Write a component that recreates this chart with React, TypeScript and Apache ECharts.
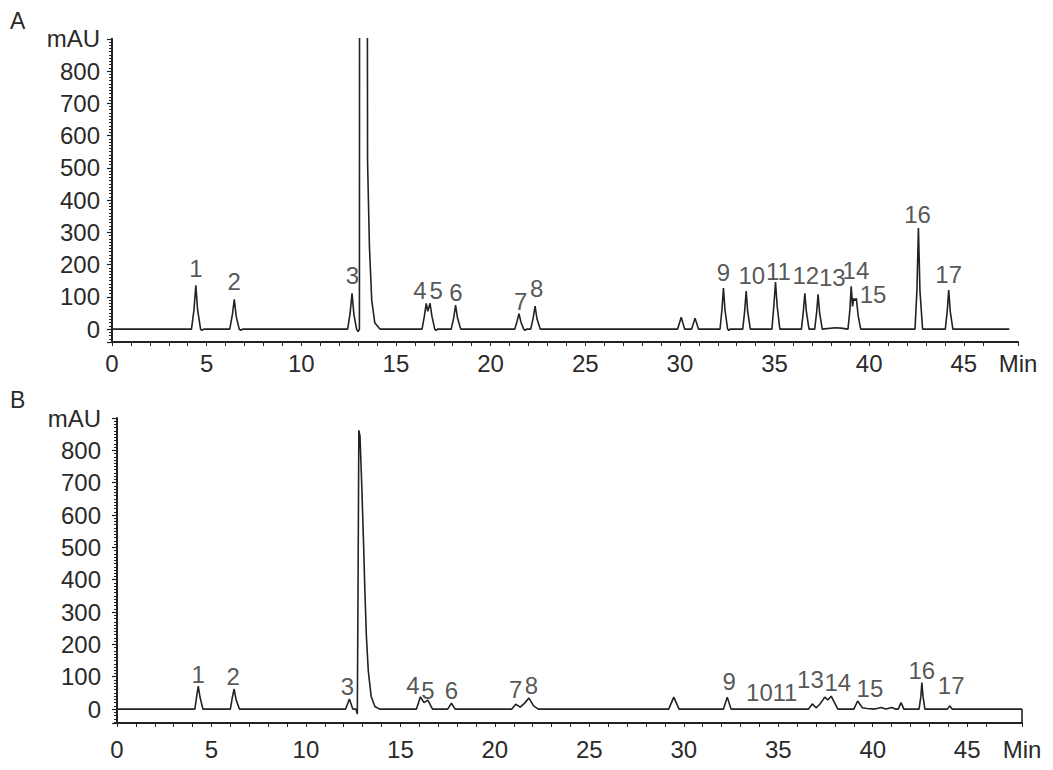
import React, { useEffect, useRef } from "react";
import * as echarts from "echarts";

// Panel A trace: [minutes, mAU]
const traceA: [number, number][] = [
  [0, 0], [4.2, 0], [4.33, 60], [4.43, 136], [4.52, 60], [4.68, 0], [4.75, -4], [4.85, 0],
  [6.22, 0], [6.36, 45], [6.46, 92], [6.56, 40], [6.72, 0], [6.8, -4], [6.9, 0],
  [12.45, 0], [12.58, 50], [12.68, 111], [12.78, 45], [12.92, 0], [13.0, -8], [13.07, 0],
  [13.09, 3000], [13.45, 3000], [13.5, 520], [13.6, 254], [13.72, 90], [13.88, 20], [14.15, 0],
  [16.38, 0], [16.5, 40], [16.6, 80], [16.68, 55], [16.8, 80], [16.9, 40], [17.05, 0], [17.12, -4], [17.2, 0],
  [17.92, 0], [18.05, 35], [18.15, 74], [18.25, 35], [18.42, 0],
  [21.28, 0], [21.4, 25], [21.5, 48], [21.6, 22], [21.75, 0], [21.82, -4], [21.9, 0],
  [22.12, 0], [22.25, 35], [22.35, 71], [22.45, 32], [22.62, 0],
  [29.88, 0], [30.07, 37], [30.25, 0], [30.62, 0], [30.8, 34], [30.98, 0],
  [32.12, 0], [32.22, 60], [32.3, 127], [32.38, 60], [32.52, 0], [32.58, -4], [32.65, 0],
  [33.32, 0], [33.42, 55], [33.5, 118], [33.58, 55], [33.72, 0],
  [34.86, 0], [34.96, 70], [35.05, 146], [35.14, 70], [35.28, 0],
  [36.42, 0], [36.52, 55], [36.6, 111], [36.68, 55], [36.82, 0],
  [37.12, 0], [37.22, 50], [37.3, 108], [37.38, 50], [37.52, 0],
  [38.2, 4], [38.5, 3], [38.88, 0], [38.98, 60], [39.05, 133], [39.12, 70], [39.18, 95], [39.25, 88],
  [39.32, 95], [39.42, 40], [39.55, 0],
  [42.42, 0], [42.52, 120], [42.6, 313], [42.68, 120], [42.82, 0],
  [44.02, 0], [44.12, 55], [44.2, 121], [44.28, 55], [44.42, 0],
  [47.4, 0],
];

// Panel B trace: [minutes, mAU]
const traceB: [number, number][] = [
  [0, 0], [4.12, 0], [4.22, 40], [4.3, 71], [4.4, 35], [4.55, 0],
  [6.0, 0], [6.1, 35], [6.2, 62], [6.3, 30], [6.48, 0],
  [12.1, 0], [12.3, 31], [12.48, 0],
  [12.65, 0], [12.72, -15], [12.76, 400], [12.8, 862], [12.86, 845], [12.95, 700], [13.05, 511],
  [13.12, 366], [13.2, 226], [13.3, 118], [13.45, 40], [13.65, 8], [13.9, 0],
  [15.85, 0], [16.06, 38], [16.25, 20], [16.45, 28], [16.7, 0],
  [17.5, 0], [17.7, 18], [17.9, 0],
  [20.9, 0], [21.1, 15], [21.35, 6], [21.6, 20], [21.8, 34], [22.05, 10], [22.3, 0],
  [29.2, 0], [29.47, 37], [29.75, 0],
  [32.1, 0], [32.3, 37], [32.5, 0],
  [36.6, 0], [36.8, 16], [37.0, 4], [37.2, 15], [37.46, 37], [37.62, 28], [37.8, 40], [38.15, 0],
  [39.0, 0], [39.2, 25], [39.45, 4], [39.7, 2], [40.1, 0],
  [40.45, 5], [40.7, 0], [41.0, 5], [41.2, 0],
  [41.35, 0], [41.5, 20], [41.65, 0],
  [42.45, 0], [42.55, 40], [42.6, 82], [42.66, 40], [42.76, 0],
  [43.95, 0], [44.07, 10], [44.2, 0],
  [47.9, 0],
];

// Peak labels: name, minutes, mAU (label centre)
const peakNames = ["1", "2", "3", "4", "5", "6", "7", "8", "9", "10", "11", "12", "13", "14", "15", "16", "17"];
const labelTimeA = [4.43, 6.45, 12.7, 16.27, 17.12, 18.17, 21.59, 22.43, 32.3, 33.8, 35.2, 36.65, 38.05, 39.3, 40.2, 42.55, 44.2];
const labelValA = [189, 149, 167, 119, 119, 112, 85, 127, 175, 165, 178, 165, 160, 182, 108, 355, 168];

const peakNamesB = ["1", "2", "3", "4", "5", "6", "7", "8", "9", "10", "11", "13", "14", "15", "16", "17"];
const labelTimeB = [4.3, 6.15, 12.2, 15.66, 16.45, 17.7, 21.1, 21.94, 32.4, 34.0, 35.35, 36.7, 38.15, 39.85, 42.6, 44.15];
const labelValB = [108, 102, 71, 74, 57, 57, 62, 74, 85, 50, 50, 93, 81, 65, 119, 72];

const xMaxA = 47.86;
const xMaxB = 47.9;
const yMinA = -40;
const yMinB = -43;
const yMax = 900;

const FONT = "Liberation Sans, Arial, Helvetica, sans-serif";
const INK = "#222";
const TXT = "#2a2a2a";

function xAxisCfg(gridIndex: number, max: number, margin: number) {
  return {
    type: "value",
    gridIndex,
    min: 0,
    max,
    interval: 1,
    axisLine: { onZero: false, lineStyle: { color: INK, width: 2 } },
    axisTick: { show: true, length: 4, lineStyle: { color: INK, width: 1 } },
    axisLabel: {
      show: true,
      margin,
      showMaxLabel: true,
      showMinLabel: true,
      fontSize: 24,
      fontFamily: FONT,
      color: TXT,
      formatter: (v: number) => (v > 46 ? "Min" : Math.round(v) % 5 === 0 ? String(Math.round(v)) : ""),
    },
    splitLine: { show: false },
  };
}

function yAxisCfg(gridIndex: number, min: number, margin: number) {
  return {
    type: "value",
    gridIndex,
    min,
    max: yMax,
    splitNumber: 9,
    axisLine: { show: true, onZero: false, lineStyle: { color: INK, width: 2 } },
    axisTick: { show: true, length: 5, lineStyle: { color: INK, width: 1.2 } },
    minorTick: { show: true, splitNumber: 10, length: 3, lineStyle: { color: INK, width: 1 } },
    axisLabel: {
      show: true,
      margin,
      showMaxLabel: true,
      fontSize: 24,
      fontFamily: FONT,
      color: TXT,
      formatter: (v: number) => (v >= 899 ? "mAU" : v < 0 ? "" : String(v)),
    },
    splitLine: { show: false },
  };
}

function labelSeries(idx: number, names: string[], ts: number[], vs: number[]) {
  return {
    type: "scatter",
    xAxisIndex: idx,
    yAxisIndex: idx,
    silent: true,
    symbolSize: 1,
    itemStyle: { color: "rgba(0,0,0,0)" },
    label: {
      show: true,
      position: "inside",
      formatter: "{b}",
      fontSize: 24,
      fontFamily: FONT,
      color: TXT,
      textBorderWidth: 0,
    },
    labelLayout: { hideOverlap: false },
    data: names.map((n, i) => ({ name: n, value: [ts[i], vs[i]] })),
  };
}

export default function App() {
  const ref = useRef<HTMLDivElement>(null);
  useEffect(() => {
    if (!ref.current) return;
    const chart = echarts.init(ref.current, null, { renderer: "svg" });
    chart.setOption({
      animation: false,
      backgroundColor: "#fff",
      graphic: [
        { type: "text", left: 10, top: 9, style: { text: "A", fontSize: 23, fontFamily: FONT, fill: TXT } },
        { type: "text", left: 10, top: 388, style: { text: "B", fontSize: 23, fontFamily: FONT, fill: TXT } },
      ],
      grid: [
        { left: 112, top: 38.75, width: 906, height: 303.25 },
        { left: 117, top: 418, width: 905, height: 305 },
      ],
      xAxis: [xAxisCfg(0, xMaxA, 9), xAxisCfg(1, xMaxB, 14)],
      yAxis: [yAxisCfg(0, yMinA, 12), yAxisCfg(1, yMinB, 16)],
      series: [
        {
          type: "line",
          xAxisIndex: 0,
          yAxisIndex: 0,
          data: traceA,
          showSymbol: false,
          clip: true,
          lineStyle: { color: INK, width: 1.6 },
          silent: true,
        },
        {
          type: "line",
          xAxisIndex: 1,
          yAxisIndex: 1,
          data: traceB,
          showSymbol: false,
          clip: true,
          lineStyle: { color: INK, width: 1.6 },
          silent: true,
          markLine: {
            silent: true,
            symbol: "none",
            label: { show: false },
            lineStyle: { color: INK, width: 1.6, type: "solid" },
            data: [[{ coord: [xMaxB, 0] }, { coord: [xMaxB, yMinB] }]],
          },
        },
        labelSeries(0, peakNames, labelTimeA, labelValA),
        labelSeries(1, peakNamesB, labelTimeB, labelValB),
      ],
    });
    return () => chart.dispose();
  }, []);
  return (
    <div
      ref={ref}
      style={{ position: "fixed", left: 0, top: 0, width: 1053, height: 770, background: "#fff" }}
    />
  );
}
